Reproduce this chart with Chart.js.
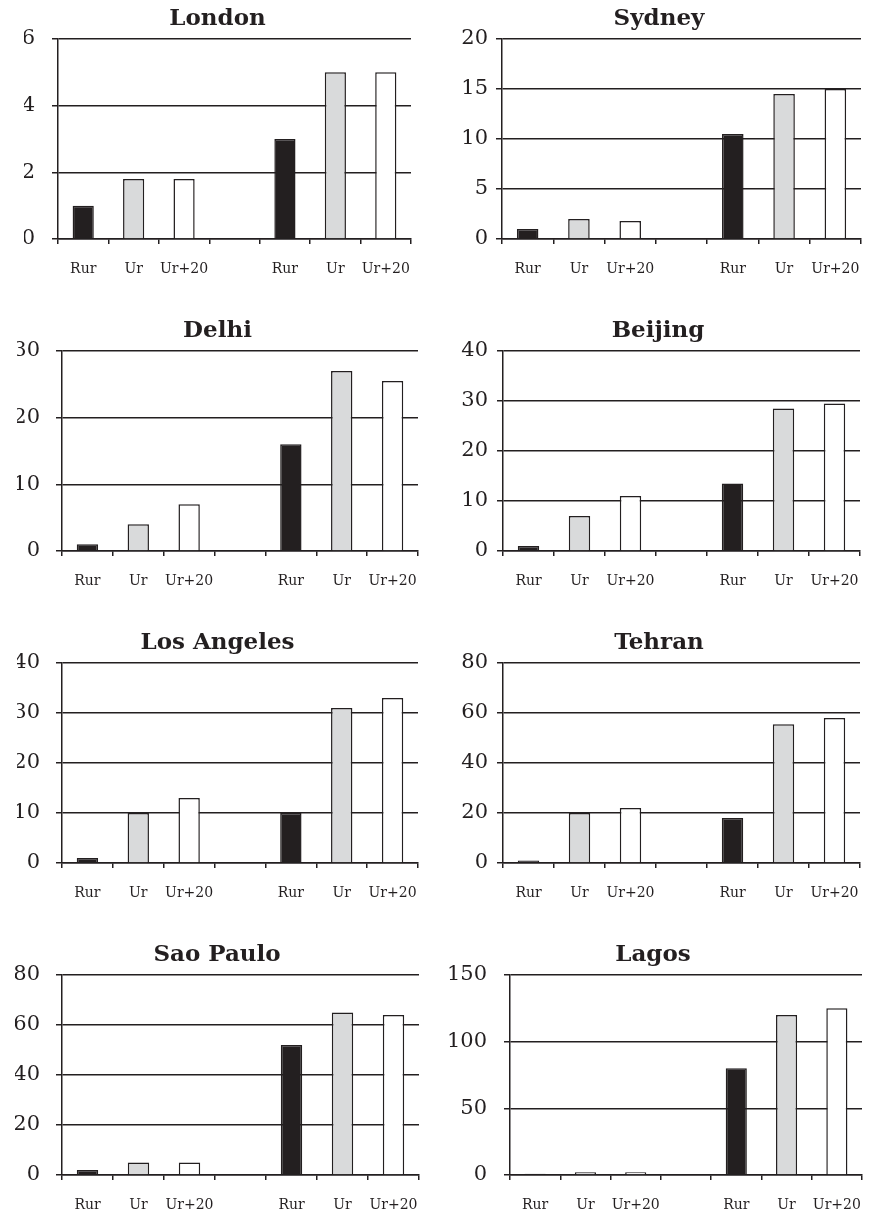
<!DOCTYPE html>
<html>
<head>
<meta charset="utf-8">
<script src="https://cdn.jsdelivr.net/npm/chart.js@4.4.1/dist/chart.umd.min.js"></script>
<style>
  body { margin: 0; background: #fff; overflow: hidden; }
  #page { position: relative; width: 870px; height: 1214px; overflow: hidden; }
  #page canvas { position: absolute; }
</style>
</head>
<body>
<div id="page"></div>
<script>
// data
const cities = ["London", "Sydney", "Delhi", "Beijing", "Los Angeles", "Tehran", "Sao Paulo", "Lagos"];
const groupLabels = ["Rur", "Ur", "Ur+20"];

const london = [1, 1.8, 1.8, 3, 5, 5];
const sydney = [1, 2, 1.8, 10.5, 14.5, 15];
const delhi = [1, 4, 7, 16, 27, 25.5];
const beijing = [1, 7, 11, 13.5, 28.5, 29.5];
const losAngeles = [1, 10, 13, 10, 31, 33];
const tehran = [1, 20, 22, 18, 55.5, 58];
const saoPaulo = [2, 5, 5, 52, 65, 64];
const lagos = [1, 2, 2, 80, 120, 125];

const yMax = [6, 20, 30, 40, 40, 80, 80, 150];
const yStep = [2, 5, 10, 10, 10, 20, 20, 50];

const allValues = [london, sydney, delhi, beijing, losAngeles, tehran, saoPaulo, lagos];

// panel layout (page px): canvas left, y-axis x, plot right, title centre, label padding
const panels = [
    { left: 0, axis: 58, right: 411, title: 217.5, pad: 17 },
    { left: 435, axis: 502, right: 861, title: 659, pad: 8 },
    { left: 0, axis: 62, right: 418, title: 217.5, pad: 16 },
    { left: 435, axis: 503, right: 860, title: 658, pad: 9 },
    { left: 0, axis: 62, right: 418, title: 217.5, pad: 16 },
    { left: 435, axis: 503, right: 860, title: 659, pad: 9 },
    { left: 0, axis: 62, right: 419, title: 217, pad: 16 },
    { left: 435, axis: 510, right: 862, title: 653, pad: 17 }
];
const panelWidth = 450;

const ink = "#231f20";
const barFill = ["#231f20", "#d9dadb", "#ffffff"];
const barEdge = ["#231f20", "#231f20", "#231f20"];

const labels = [...groupLabels, "", ...groupLabels];

Chart.defaults.font.family = "'DejaVu Serif', serif";
Chart.defaults.color = ink;

const page = document.getElementById("page");

cities.forEach((city, i) => {
    const p = panels[i];
    const row = Math.floor(i / 2);
    const canvas = document.createElement("canvas");
    canvas.width = panelWidth;
    canvas.height = 279;
    canvas.style.left = p.left + "px";
    canvas.style.top = (row * 312) + "px";
    page.appendChild(canvas);

    // left padding chosen so the title centres where the reference has it
    const padLeft = 2 * p.title - p.right - p.left;
    const padRight = p.left + panelWidth - p.right;

    const v = allValues[i];
    const data = [v[0], v[1], v[2], null, v[3], v[4], v[5]];
    const fills = [...barFill, null, ...barFill];
    const edges = [...barEdge, null, ...barEdge];

    new Chart(canvas, {
        type: "bar",
        data: {
            labels: labels,
            datasets: [{
                data: data,
                backgroundColor: fills,
                borderColor: edges,
                borderWidth: 1.5,
                barPercentage: 0.42,
                categoryPercentage: 1
            }]
        },
        options: {
            responsive: false,
            animation: false,
            layout: { padding: { left: padLeft, right: padRight, top: 0, bottom: 0 } },
            plugins: {
                legend: { display: false },
                tooltip: { enabled: false },
                title: {
                    display: true,
                    text: city,
                    color: ink,
                    font: { size: 23, weight: "bold" },
                    padding: { top: 5, bottom: 6.4 }
                }
            },
            scales: {
                x: {
                    grid: {
                        offset: true,
                        drawOnChartArea: false,
                        drawTicks: true,
                        tickLength: 5,
                        color: ink,
                        lineWidth: 1.5
                    },
                    border: { display: true, color: ink, width: 1.5 },
                    ticks: { font: { size: 14 }, padding: 17, maxRotation: 0, autoSkip: false },
                    afterFit: (axis) => { axis.height = 40; }
                },
                y: {
                    min: 0,
                    max: yMax[i],
                    ticks: { stepSize: yStep[i], font: { size: 21 }, padding: p.pad },
                    grid: { color: ink, lineWidth: 1.5, tickLength: 6 },
                    border: { display: true, color: ink, width: 1.5 },
                    afterFit: (axis) => { axis.width = p.axis - p.left - padLeft; }
                }
            }
        }
    });
});
</script>
</body>
</html>
